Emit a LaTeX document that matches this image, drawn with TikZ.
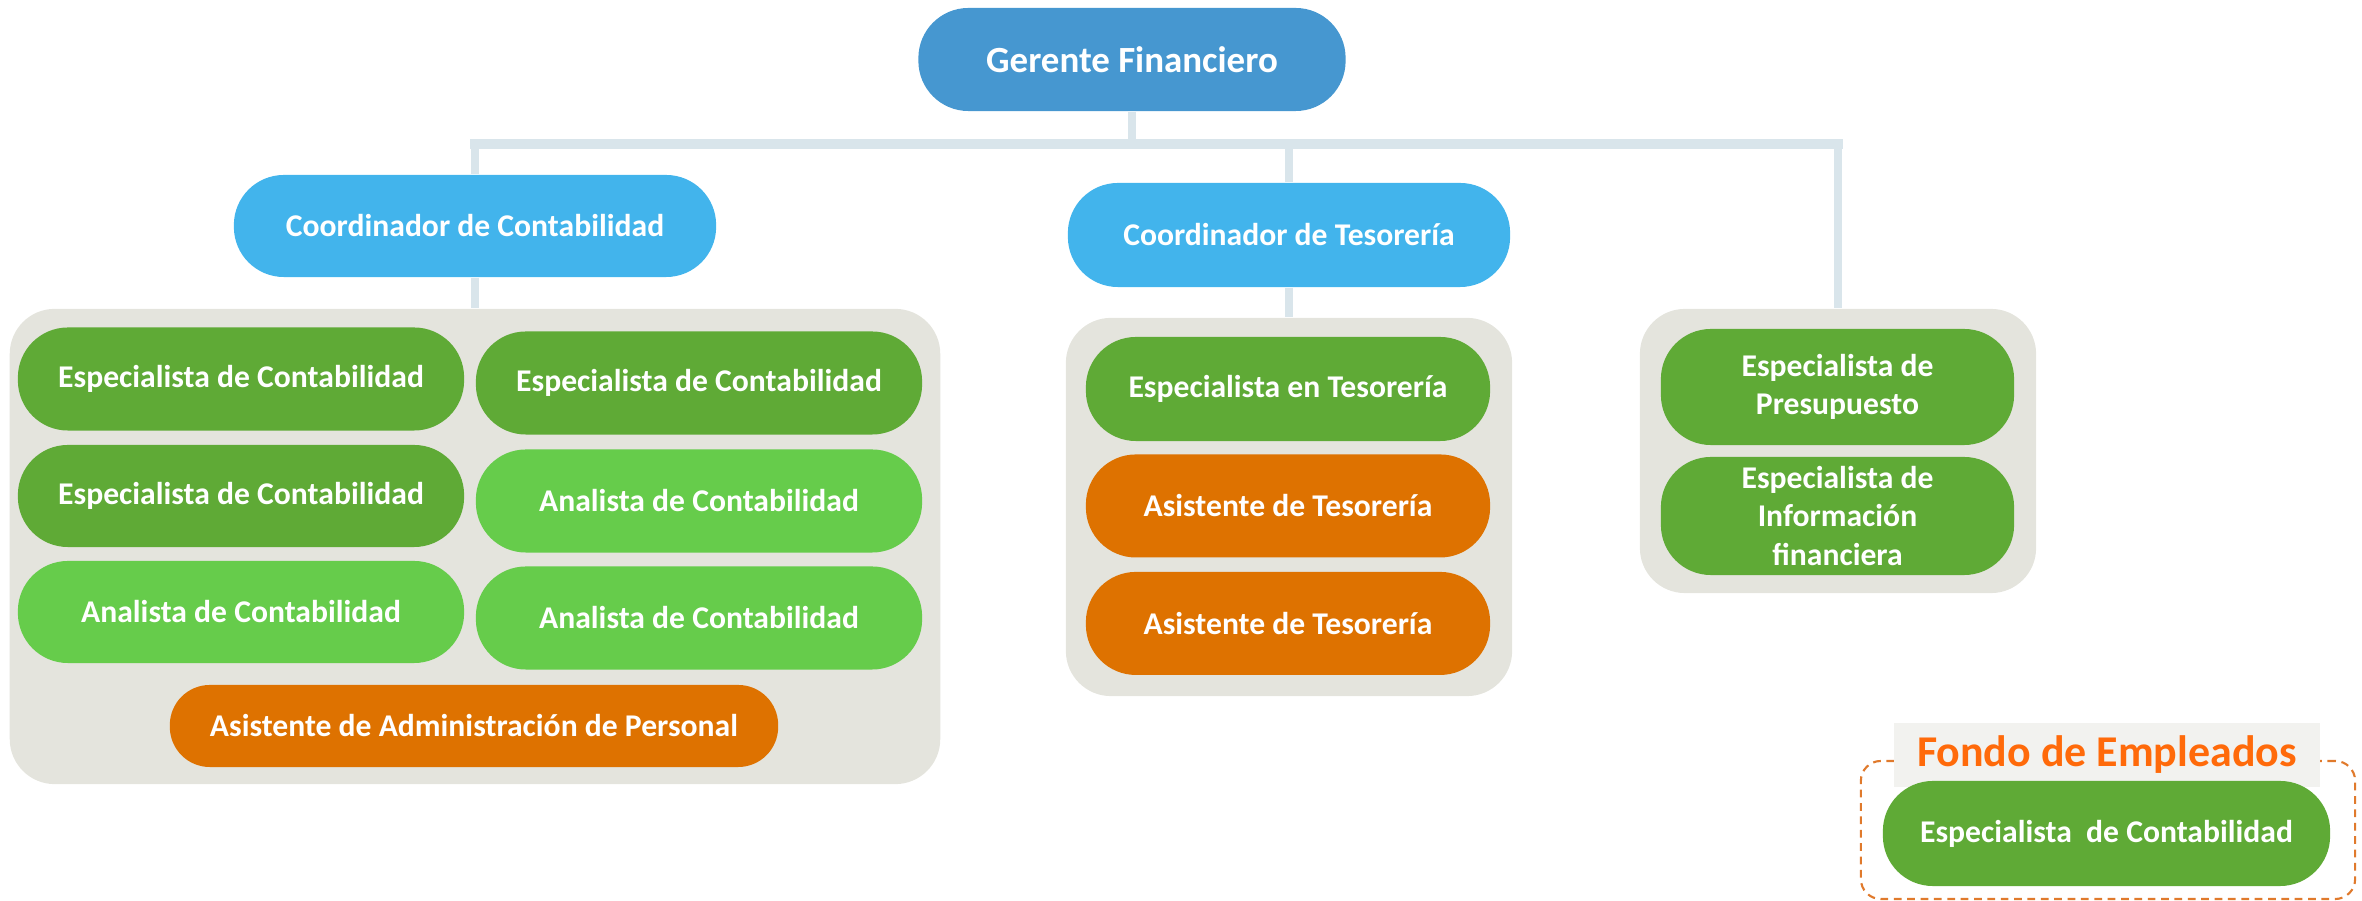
\documentclass[tikz,border=0pt]{standalone}
\usepackage{fontspec}
\setmainfont{Carlito}
\usetikzlibrary{positioning}

\definecolor{gfblue}{HTML}{4697D0}
\definecolor{coordblue}{HTML}{42B4EC}
\definecolor{dkgreen}{HTML}{5FAA36}
\definecolor{ltgreen}{HTML}{66CC4B}
\definecolor{asorange}{HTML}{DE7200}
\definecolor{grpgray}{HTML}{E4E4DD}
\definecolor{linkblue}{HTML}{D9E5EB}
\definecolor{fondoorange}{HTML}{FF6A0A}
\definecolor{fondobg}{HTML}{F2F2EF}
\definecolor{dashorange}{HTML}{E07A2C}

\begin{document}
\begin{tikzpicture}[
    x=0.01cm, y=-0.01cm,
    role/.style={rounded corners=0.5cm, minimum height=1.03cm, align=center, text=white, inner sep=2pt, font=\fontsize{9}{11}\selectfont\bfseries},
    jefe/.style={role, fill=gfblue, font=\fontsize{10.5}{12.5}\selectfont\bfseries},
    coord/.style={role, fill=coordblue},
    espec/.style={role, fill=dkgreen, minimum width=4.46cm},
    anal/.style={role, fill=ltgreen, minimum width=4.46cm},
    asist/.style={role, fill=asorange},
    grupo/.style={fill=grpgray, rounded corners=0.45cm},
    link/.style={draw=linkblue, line width=2pt},
    bus/.style={draw=linkblue, line width=2.8pt, line cap=rect}
]
\useasboundingbox (0,0) rectangle (2362,901);

% Group backgrounds
\node[grupo, minimum width=9.30cm, minimum height=4.75cm] (lg) at (475,546.5) {};
\node[grupo, minimum width=4.46cm, minimum height=3.78cm] (tg) at (1289,507) {};
\node[grupo, minimum width=3.96cm, minimum height=2.84cm] (rg) at (1838,451) {};

% Top levels
\node[jefe, minimum width=4.27cm] (gf) at (1132,59.5) {Gerente Financiero};
\node[coord, minimum width=4.82cm, minimum height=1.02cm] (cc) at (475,226) {Coordinador de Contabilidad};
\node[coord, minimum width=4.42cm, minimum height=1.04cm] (ct) at (1289,235) {Coordinador de Tesorería};

% Contabilidad
\node[espec] (es1) at (241,379) {Especialista de Contabilidad};
\node[espec] (es2) at (699,383) {Especialista de Contabilidad};
\node[espec, minimum height=1.02cm] (es3) at (241,496) {Especialista de Contabilidad};
\node[anal] (ac1) at (699,501) {Analista de Contabilidad};
\node[anal, minimum height=1.02cm] (ac2) at (241,612) {Analista de Contabilidad};
\node[anal] (ac3) at (699,618) {Analista de Contabilidad};
\node[asist, rounded corners=0.4cm, minimum width=6.08cm, minimum height=0.82cm] (aap) at (474,726) {Asistente de Administración de Personal};

% Tesoreria
\node[espec, minimum width=4.04cm, minimum height=1.04cm] (et) at (1288,389) {Especialista en Tesorería};
\node[asist, minimum width=4.04cm, below=0.12cm of et] (at1) {Asistente de Tesorería};
\node[asist, minimum width=4.04cm, below=0.13cm of at1] (at2) {Asistente de Tesorería};

% Presupuesto
\node[espec, minimum width=3.53cm, minimum height=1.16cm] (pp) at (1837.5,387) {Especialista de\\Presupuesto};
\node[espec, minimum width=3.53cm, minimum height=1.18cm] (ifn) at (1837.5,516) {Especialista de\\Información\\financiera};

% Connectors
\coordinate (bus) at (1132,144);
\draw[link] (gf.south) -- (gf.south |- bus);
\draw[bus] (cc |- bus) -- (rg |- bus);
\draw[link] (cc |- bus) -- (cc.north);
\draw[link] (ct |- bus) -- (ct.north);
\draw[link] (rg |- bus) -- (rg.north);
\draw[link] (cc.south) -- (lg.north);
\draw[link] (ct.south) -- (tg.north);

% Fondo de Empleados
\node[draw=dashorange, dashed, dash pattern=on 2.2pt off 1.6pt, line width=0.6pt, rounded corners=0.2cm, minimum width=4.94cm, minimum height=1.38cm] (fd) at (2108,830) {};
\node[fill=fondobg, minimum width=4.26cm, minimum height=0.64cm, text=fondoorange, font=\fontsize{12.5}{14}\selectfont\bfseries] (fl) at (2107,755) {Fondo de Empleados};
\node[espec, minimum width=4.47cm, minimum height=1.05cm] (fec) at (2106.5,833.5) {Especialista\ \ de Contabilidad};
\end{tikzpicture}
\end{document}
